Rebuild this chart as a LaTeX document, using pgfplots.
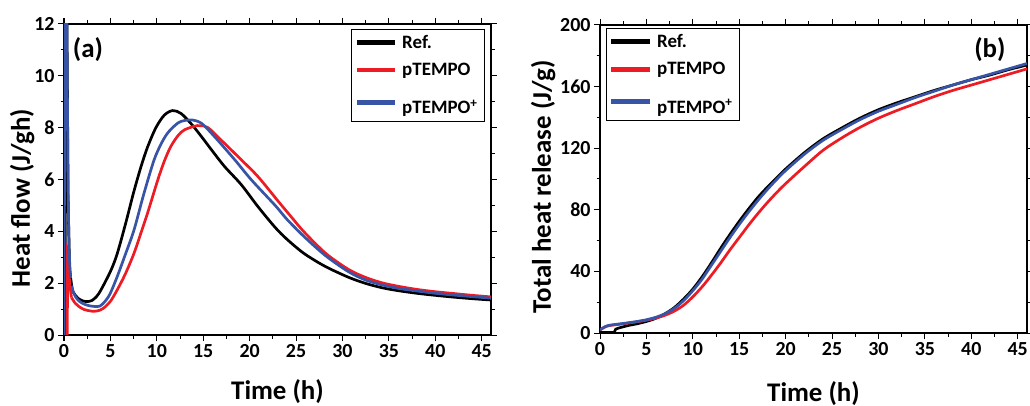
\documentclass[border=0pt]{standalone}
\usepackage{fontspec}
\setmainfont{Carlito}
\usepackage{pgfplots}
\pgfplotsset{compat=1.18}
\definecolor{cred}{RGB}{237,28,36}
\definecolor{cblue}{RGB}{55,84,166}
\pgfplotsset{
  myaxis/.style={
    scale only axis,
    xmin=0,xmax=46,
    xtick={0,5,...,45},
    minor x tick num=1,
    tick align=outside,
    major tick length=6bp,
    minor tick length=3.5bp,
    axis line style={line width=1.1bp},
    every tick/.style={line width=1bp,black},
    tick label style={font=\fontsize{20}{24}\selectfont\bfseries},
    /pgf/number format/assume math mode=true,
    label style={font=\fontsize{27}{32}\selectfont\bfseries},
    legend style={draw=black, line width=1bp, font=\fontsize{19}{22}\selectfont\bfseries,
      inner xsep=5bp, inner ysep=4bp, row sep=9bp, cells={anchor=west}},
    legend image code/.code={\fill[##1] (0bp,-1.05bp) rectangle (36bp,1.05bp); \path (41bp,0bp);},
    every axis plot/.append style={line width=2.7bp},
  }
}
\begin{document}
\begin{tikzpicture}
% ---------------- (a) ----------------
\begin{axis}[myaxis,
  at={(64bp,71bp)}, anchor=south west, width=427bp, height=311bp,
  ymin=0, ymax=12, ytick={0,2,...,12}, minor y tick num=1,
  xlabel={Time (h)}, ylabel={Heat flow (J/gh)},
  xlabel style={at={(rel axis cs:0.5,-0.183)}, anchor=center},
  ylabel style={at={(rel axis cs:-0.098,0.44)}, anchor=center, rotate=0},
  legend style={at={(0.986,0.984)}, anchor=north east},
]
\addplot[black, smooth, tension=0.5] coordinates {
(0.8,1.9)(1.0,1.65)(1.5,1.42)(2.0,1.32)(2.5,1.29)(3,1.33)(3.5,1.48)(4,1.75)(5,2.45)(5.7,3.1)(6.6,4.25)(7.5,5.5)(8.3,6.5)(9,7.25)(9.9,8.0)(10.8,8.48)(11.7,8.66)(12.6,8.55)(13.7,8.15)(14.8,7.66)(15.9,7.14)(17.3,6.5)(19.1,5.8)(20.9,4.95)(22.75,4.15)(24,3.7)(25.65,3.2)(27.1,2.86)(28.5,2.58)(30.7,2.22)(32.5,1.99)(34.3,1.82)(36,1.71)(38,1.61)(40,1.53)(42,1.46)(44,1.4)(46,1.35)};
\addlegendentry{Ref.}
\addplot[cred, smooth, tension=0.5] coordinates {
(0.8,1.45)(1.2,1.23)(1.6,1.1)(2.2,0.98)(3.0,0.92)(3.6,0.93)(4.2,1.02)(5,1.3)(5.73,1.74)(6.6,2.35)(7.54,3.15)(8.3,3.95)(8.99,4.69)(10.1,5.98)(10.8,6.7)(11.5,7.27)(12.3,7.7)(13.0,7.92)(14.4,8.08)(15.5,8.0)(16.9,7.53)(19.1,6.76)(20.9,6.11)(23.1,5.15)(24.5,4.55)(25.65,4.06)(27.1,3.52)(28.5,3.06)(30.7,2.52)(32.5,2.22)(34.3,2.01)(36,1.88)(38,1.76)(40,1.67)(42,1.6)(44,1.53)(46,1.47)};
\addlegendentry{pTEMPO}
\addplot[cblue, smooth, tension=0.5] coordinates {
(0.7,2.2)(1.0,1.65)(1.5,1.35)(2,1.22)(2.6,1.14)(3.3,1.1)(3.9,1.12)(4.5,1.33)(5,1.62)(5.73,2.25)(6.6,3.1)(7.54,4.05)(8.62,5.47)(9.71,6.76)(10.5,7.4)(11.16,7.79)(12.0,8.1)(12.6,8.24)(13.7,8.3)(14.8,8.17)(16.2,7.66)(18.4,6.76)(20.2,5.98)(22.75,5.0)(24,4.47)(25.65,3.87)(27.1,3.39)(28.5,2.97)(30.7,2.43)(32.5,2.12)(34.3,1.93)(36,1.8)(38,1.7)(40,1.61)(42,1.54)(44,1.48)(46,1.42)};
\addlegendentry{pTEMPO\textsuperscript{+}\rule{0pt}{24bp}}
% initial spikes
\addplot[black, forget plot] coordinates {(0.12,0)(0.15,13)(0.3,13)(0.45,5)(0.6,2.6)(0.8,1.9)};
\addplot[cred, forget plot] coordinates {(0.36,0)(0.38,3.35)(0.45,3.3)(0.6,2.0)(0.8,1.45)};
\addplot[cblue, forget plot] coordinates {(0.02,0)(0.08,13)(0.3,13)(0.42,6)(0.55,3.2)(0.7,2.2)};
\node[font=\fontsize{27}{32}\selectfont\bfseries] at (rel axis cs:0.056,0.918) {(a)};
\end{axis}
% ---------------- (b) ----------------
\begin{axis}[myaxis,
  at={(600bp,73bp)}, anchor=south west, width=427bp, height=308bp,
  ymin=0, ymax=200, ytick={0,40,...,200}, minor y tick num=1,
  xlabel={Time (h)}, ylabel={Total heat release (J/g)},
  xlabel style={at={(rel axis cs:0.5,-0.195)}, anchor=center},
  ylabel style={at={(rel axis cs:-0.133,0.474)}, anchor=center, rotate=0},
  legend style={at={(0.014,0.99)}, anchor=north west},
]
\addplot[black, smooth, tension=0.5] coordinates {
(1.5,0)(1.7,2.5)(2,3.2)(3,4.8)(4,6)(5,7.5)(6,9.5)(7,12.5)(8,16.5)(9,22)(10,28.5)(11,36.5)(12,45.5)(13,55)(14,64)(15,72.5)(16,80.5)(17,88)(18,94.5)(19,100.5)(20,106.5)(22,117)(24,126)(26,133)(28,139.5)(30,145)(32,149.5)(34,153.5)(36,157.5)(38,161)(40,164.5)(42,167.5)(44,171)(46,174)};
\addlegendentry{Ref.}
\addplot[cred, smooth, tension=0.5] coordinates {
(0,2)(0.5,3.8)(1,4.8)(2,5.6)(3,6.4)(4,7.3)(5,8.3)(6,9.6)(7,11.5)(8,14.2)(9,18)(10,23.5)(11,30)(12,37.5)(13,45.5)(14,54)(15,62)(16,70)(17,77.5)(18,84.5)(19,91)(20,97)(22,108)(24,118.5)(26,126.5)(28,133.5)(30,139.5)(32,144.5)(34,149)(36,153.5)(38,157.5)(40,161)(42,164.5)(44,168)(46,171.5)};
\addlegendentry{pTEMPO}
\addplot[cblue, smooth, tension=0.5] coordinates {
(0,2)(0.5,4)(1,5)(2,5.8)(3,6.6)(4,7.5)(5,8.6)(6,10.2)(7,12.5)(8,16)(9,21)(10,27.5)(11,35)(12,44)(13,53)(14,62)(15,70.5)(16,78.5)(17,86)(18,93)(19,99.5)(20,105.5)(22,116)(24,125)(26,132)(28,138.5)(30,144)(32,148.5)(34,153)(36,157)(38,161)(40,164.5)(42,168)(44,171.5)(46,175)};
\addlegendentry{pTEMPO\textsuperscript{+}\rule{0pt}{24bp}}
\addplot[black, forget plot] coordinates {(0,0.4)(1.5,0.4)};
\node[font=\fontsize{27}{32}\selectfont\bfseries] at (rel axis cs:0.913,0.92) {(b)};
\end{axis}
\pgfresetboundingbox
\path (0,0) rectangle (1030bp,406bp);
\end{tikzpicture}
\end{document}
